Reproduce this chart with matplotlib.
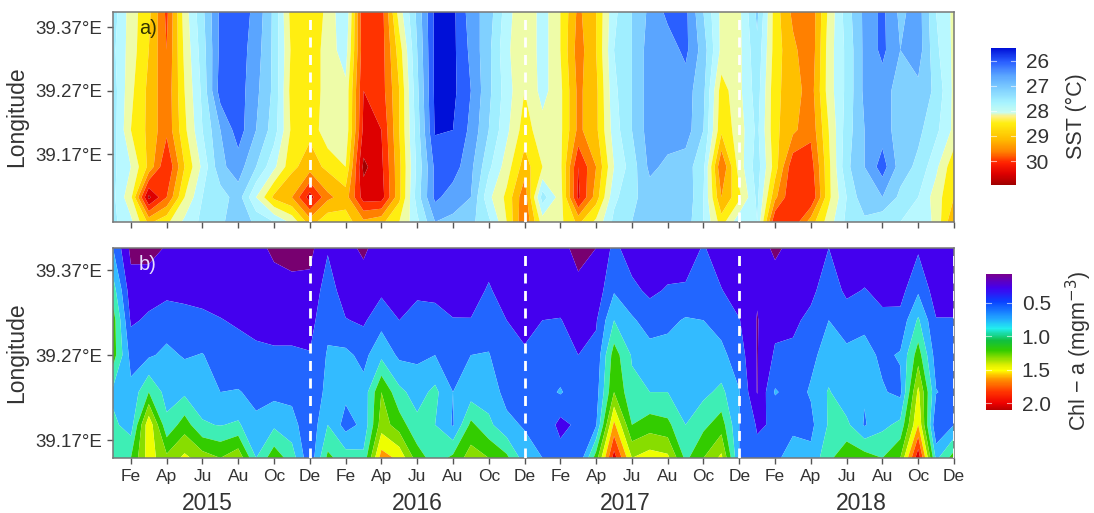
import matplotlib
matplotlib.use("Agg")
import matplotlib.pyplot as plt
import numpy as np
from matplotlib.colors import LinearSegmentedColormap, Normalize
from matplotlib.cm import ScalarMappable

plt.rcParams['font.family'] = ['Liberation Sans', 'DejaVu Sans']

# ---- data ----
months = list(range(48))
month_names = ["Fe", "Ap", "Ju", "Au", "Oc", "De"] * 4
years = ["2015", "2016", "2017", "2018"]
lon_ticks = [39.17, 39.27, 39.37]
lon_labels = ["39.17°E", "39.27°E", "39.37°E"]

sst_lon = [39.063, 39.102, 39.15, 39.208, 39.27, 39.334, 39.394]
sst_0 = [27.5,27.9,28.9,28.5,27.9,27.5,27.3,26.9,27.3,27.6,28.1,29.0,28.5,28.6,29.1,28.9,28.4,27.7,26.8,26.9,27.1,27.5,28.4,29.6,
         28.2,28.3,28.9,28.3,27.5,27.2,27.0,27.0,27.0,27.6,28.6,27.7,27.6,30.0,29.9,29.0,28.2,27.5,27.3,27.5,27.6,27.7,28.1,29.2]
sst_1 = [27.5,28.3,30.5,29.6,28.4,27.6,27.4,27.0,28.0,28.9,29.2,30.2,29.3,29.0,30.2,30.2,28.9,27.4,26.3,26.6,26.8,27.9,28.5,29.5,
         27.4,28.2,30.1,29.0,27.7,27.3,27.0,27.0,26.9,27.6,29.2,28.5,27.5,29.1,30.0,30.0,28.5,27.6,26.9,26.8,27.3,27.6,28.2,28.8]
sst_2 = [27.5,28.0,28.9,30.0,28.8,27.9,26.9,26.6,27.2,27.9,28.7,29.0,28.7,28.4,30.5,30.1,28.9,27.5,26.3,26.2,26.7,27.5,28.2,29.0,
         28.4,28.3,30.0,29.2,28.0,27.4,26.7,26.9,27.0,27.5,29.6,28.2,27.4,28.6,29.9,29.8,28.5,27.3,26.8,26.2,27.0,27.3,27.9,28.7]
sst_3 = [27.4,28.4,28.9,29.5,28.5,27.6,26.8,26.2,26.8,27.4,28.5,28.7,28.1,28.1,30.1,30.0,28.8,27.4,25.95,26.0,26.5,27.2,27.9,28.6,
         28.15,28.3,29.3,28.9,27.8,27.2,26.6,26.6,26.6,27.2,28.7,28.2,27.5,28.7,29.1,29.5,28.4,27.4,26.8,26.6,27.0,27.1,27.5,28.1]
sst_4 = [27.4,28.3,28.9,29.5,28.4,27.5,26.2,26.2,26.7,27.3,28.6,28.7,28.2,28.1,30.0,29.8,28.8,27.3,25.9,25.9,26.4,27.1,27.8,28.4,
         27.85,28.3,29.3,28.9,27.7,27.2,26.6,26.6,26.6,27.1,28.6,28.1,27.4,28.7,29.0,29.4,28.2,27.5,26.7,26.6,27.0,26.9,27.3,28.1]
sst_5 = [27.5,28.2,28.8,29.6,28.3,27.4,26.3,26.2,26.6,27.3,28.5,28.7,28.2,27.8,29.9,29.8,28.6,27.2,25.9,25.9,26.5,27.1,27.9,28.4,
         27.8,28.4,29.4,28.8,27.6,27.2,26.6,26.6,26.3,27.0,28.1,28.1,27.3,28.6,29.1,29.5,28.2,27.5,26.7,26.3,26.8,26.6,27.5,28.1]
sst_6 = [27.4,28.2,28.7,29.7,28.2,27.3,26.3,26.2,26.5,27.3,28.6,28.7,28.3,27.6,30.0,29.8,28.2,27.1,25.9,25.9,26.6,27.0,27.8,28.4,
         27.8,28.4,29.3,28.8,27.7,27.2,26.7,26.3,26.3,27.2,28.1,28.1,27.1,28.6,29.3,29.5,28.3,27.4,26.7,26.3,26.9,26.6,27.6,28.1]

chl_lon = [39.149, 39.188, 39.2265, 39.27, 39.311, 39.346, 39.396]
chl_0 = [.9,1.0,1.5,1.25,1.45,1.3,1.2,1.35,.8,1.13,.9,.45,1.05,.9,.85,1.7,1.55,1.1,.9,1.05,1.3,1.2,1.05,.7,
         .6,.5,.42,1.1,2.1,1.4,1.5,1.45,.95,1.2,1.45,.6,.45,.55,.7,.65,.95,1.15,1.1,1.0,1.2,2.15,.75,1.1]
chl_1 = [.85,.7,1.55,.85,1.1,.82,.79,.83,.63,.76,.68,.45,.8,.52,.65,1.3,1.1,.85,.8,.58,1.05,.85,.65,.58,
         .58,.33,.45,.58,1.65,1.0,1.1,1.05,.8,.95,1.1,.6,.38,.42,.55,.55,.82,.85,.58,.75,.85,1.6,.4,.6]
chl_2 = [.75,.65,1.0,.72,.76,.7,.6,.61,.56,.54,.54,.47,.65,.65,.67,1.2,.85,.72,.85,.6,.7,.7,.54,.51,
         .52,.62,.48,.51,1.2,.85,.8,.8,.67,.75,.85,.61,.19,.62,.52,.62,.82,.65,.62,.62,.55,1.45,.61,.53]
chl_3 = [1.1,.53,.57,.65,.58,.61,.5,.49,.45,.43,.43,.41,.62,.65,.54,.75,.56,.56,.6,.51,.6,.61,.47,.43,
         .46,.47,.4,.45,1.1,.78,.68,.68,.7,.7,.65,.5,.19,.43,.44,.56,.67,.65,.67,.56,.62,1.1,.5,.47]
chl_4 = [1.1,.37,.43,.5,.46,.45,.41,.37,.33,.32,.32,.33,.55,.41,.37,.53,.4,.46,.47,.41,.41,.51,.4,.33,
         .4,.41,.3,.38,.8,.63,.51,.55,.62,.6,.53,.41,.19,.34,.36,.45,.6,.5,.55,.44,.46,.83,.41,.41]
chl_5 = [.9,.28,.33,.35,.35,.32,.3,.28,.26,.24,.24,.26,.5,.3,.28,.36,.29,.37,.35,.3,.29,.43,.28,.26,
         .28,.29,.24,.28,.58,.45,.36,.42,.43,.48,.41,.29,.22,.25,.27,.35,.51,.36,.41,.35,.33,.57,.3,.3]
chl_6 = [.6,.15,.12,.22,.25,.25,.25,.25,.23,.18,.15,.14,.38,.25,.17,.28,.27,.27,.25,.24,.25,.28,.24,.24,
         .24,.25,.15,.2,.45,.3,.27,.28,.28,.42,.27,.26,.25,.18,.23,.3,.4,.27,.27,.27,.27,.37,.24,.24]

sst_levels = [25.6 + 0.4 * k for k in range(14)]
sst_colors = ["#0010d8", "#2a5fff", "#5aa5ff", "#80d0ff", "#a0eeff", "#b8f8ff", "#eefca8",
              "#ffee11", "#ffc000", "#ff8000", "#ff3300", "#dd0000", "#a00000"]
chl_levels = [0.2 * k for k in range(12)]
chl_colors = ["#780070", "#4400ee", "#2266ff", "#33bbff", "#3eeeb5", "#33cc00", "#88dd00",
              "#eeff00", "#ff9900", "#ff4400", "#dd0000"]

sst_bar_pos = [(0, "#0010d8"), (0.10, "#2a5fff"), (0.2, "#5aa5ff"), (0.30, "#80d0ff"), (0.40, "#a8f4ff"),
               (0.47, "#c8fcf0"), (0.50, "#fff080"), (0.55, "#ffee11"), (0.66, "#ffc000"), (0.76, "#ff8000"),
               (0.84, "#ff2000"), (0.92, "#dd0000"), (1, "#a00000")]
chl_bar_pos = [(0, "#780090"), (0.1, "#4400ee"), (0.2, "#0a40ff"), (0.33, "#22aaff"), (0.4, "#22eeee"),
               (0.49, "#10c040"), (0.56, "#33cc00"), (0.67, "#ddee00"), (0.71, "#ffff00"), (0.77, "#ff9900"),
               (0.87, "#ff3300"), (0.95, "#ee0000"), (1, "#bb0000")]

W, H = 1094, 513
fig = plt.figure(figsize=(W / 100, H / 100), dpi=100)


def axpx(l, t, r, b):
    return fig.add_axes([l / W, 1 - b / H, (r - l) / W, (b - t) / H])


ink = "#333333"
edge = "#777777"


def panel(ax, lon, rows, levels, colors, tag, tagcolor, decembers):
    ax.contourf(months, lon, np.array(rows), levels=levels, colors=colors, extend="both", antialiased=True)
    ax.set_xlim(0, 47)
    ax.set_ylim(lon[0], lon[-1])
    for d in decembers:
        ax.axvline(d, color="white", lw=2, dashes=(3.6, 2.7), zorder=5, clip_on=True)
    ax.set_yticks(lon_ticks, lon_labels, fontsize=13.5, color=ink)
    ax.set_xticks(months[1::2])
    ax.tick_params(axis="both", color="#555555", length=4, width=1, pad=4)
    ax.set_ylabel("Longitude", fontsize=16.5, color=ink, labelpad=5)
    for s in ax.spines.values():
        s.set_color(edge)
        s.set_linewidth(1.1)
    ax.text(1.45, 0.92, tag, transform=ax.get_xaxis_transform(), fontsize=14.5,
            color=tagcolor, ha="left", va="center", zorder=6)


ax1 = axpx(113, 12, 954, 222)
panel(ax1, sst_lon, [sst_0, sst_1, sst_2, sst_3, sst_4, sst_5, sst_6], sst_levels, sst_colors, "a)", "#333300",
      [11, 23, 35])
ax1.set_xticklabels([])

ax2 = axpx(113, 248, 954, 458)
panel(ax2, chl_lon, [chl_0, chl_1, chl_2, chl_3, chl_4, chl_5, chl_6], chl_levels, chl_colors, "b)", "#e8e0ff",
      [11, 23, 35, 47])
ax2.set_xticklabels(month_names, fontsize=12.5, color=ink)
for yr, xc in zip(years, [5.25, 17.0, 28.6, 41.8]):
    ax2.text(xc, -0.215, yr, transform=ax2.get_xaxis_transform(), fontsize=16.5, color=ink,
             ha="center", va="center")


def bar(l, t, r, b, pos, vmin, vmax, ticks, ticklabels, label, invert, lx, ly):
    cax = axpx(l, t, r, b)
    cmap = LinearSegmentedColormap.from_list("c", pos, N=256)
    sm = ScalarMappable(norm=Normalize(vmin, vmax), cmap=cmap)
    cb = fig.colorbar(sm, cax=cax)
    cb.set_ticks(ticks, labels=ticklabels)
    cb.ax.tick_params(labelsize=15, labelcolor=ink, length=0, pad=7)
    cb.outline.set_visible(False)
    for v in ticks:
        cax.plot([0, 0.2], [v, v], color="white", alpha=0.6, lw=0.8, transform=cax.get_yaxis_transform())
        cax.plot([0.8, 1], [v, v], color="white", alpha=0.6, lw=0.8, transform=cax.get_yaxis_transform())
    cax.set_ylim(vmin, vmax)
    if invert:
        cax.invert_yaxis()
    fig.text(lx / W, 1 - ly / H, label, rotation=90, fontsize=15.5, color=ink, ha="center", va="center")


bar(991, 48, 1016, 185, sst_bar_pos, 25.5, 30.95, [26, 27, 28, 29, 30],
    ["26", "27", "28", "29", "30"], "SST (°C)", True, 1076, 116)
bar(986, 274, 1012, 410, chl_bar_pos, 0.07, 2.1, [0.5, 1.0, 1.5, 2.0],
    ["0.5", "1.0", "1.5", "2.0"], "Chl − a (mgm$^{-3}$)", True, 1079, 351)

fig.savefig("out.png", dpi=100)
